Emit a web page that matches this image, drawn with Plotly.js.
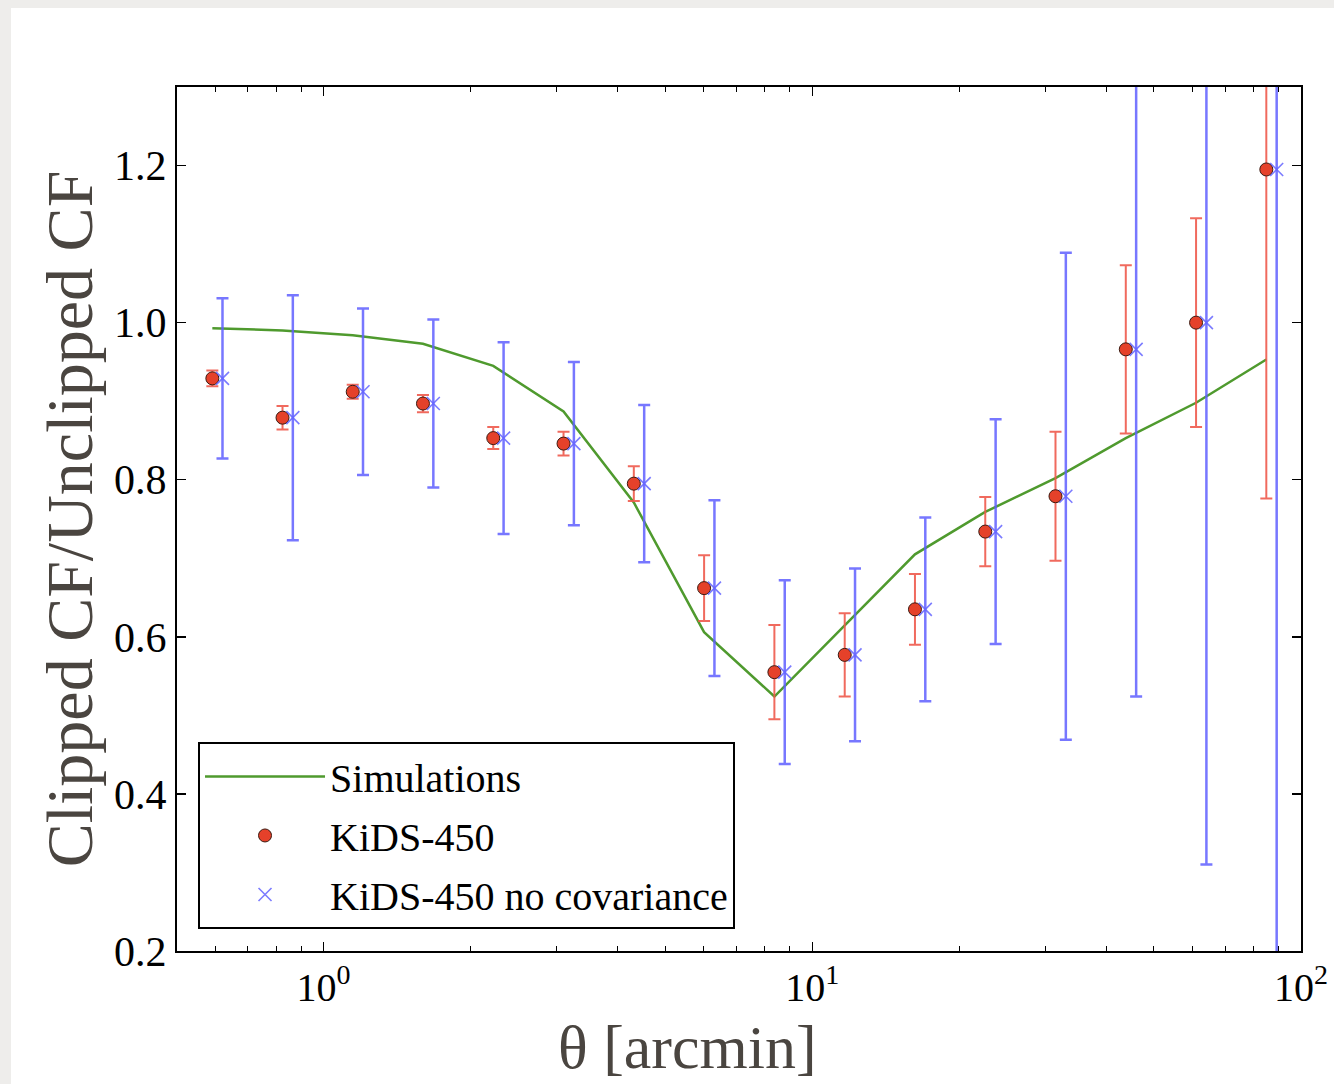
<!DOCTYPE html>
<html>
<head>
<meta charset="utf-8">
<script src="https://cdn.plot.ly/plotly-3.0.1.min.js"></script>
<style>
  html, body { margin: 0; padding: 0; background: #eeedeb; }
  #chart { position: absolute; left: 11px; top: 8px; width: 1323px; height: 1076px; background: #ffffff; }
</style>
</head>
<body>
<div id="chart"></div>
<script>
// angular bins [arcmin]
const theta = [0.592, 0.824, 1.147, 1.597, 2.224, 3.097, 4.313, 6.006, 8.364, 11.65, 16.22, 22.59, 31.45, 43.80, 60.99, 84.92];
// same bins shifted slightly for the "no covariance" points
const thetaNoCov = [0.621, 0.865, 1.204, 1.677, 2.335, 3.252, 4.529, 6.306, 8.782, 12.23, 17.03, 23.72, 33.02, 45.99, 64.04, 89.17];

const simulations = [0.993, 0.990, 0.984, 0.973, 0.945, 0.887, 0.771, 0.606, 0.524, 0.615, 0.705, 0.759, 0.802, 0.853, 0.898, 0.953];
const kids = [0.929, 0.879, 0.912, 0.897, 0.853, 0.846, 0.795, 0.662, 0.555, 0.577, 0.635, 0.734, 0.779, 0.966, 1.000, 1.195];
const kidsErr = [0.010, 0.015, 0.009, 0.011, 0.014, 0.015, 0.022, 0.042, 0.060, 0.053, 0.045, 0.044, 0.082, 0.107, 0.133, 0.419];
const kidsNoCov = [0.929, 0.879, 0.912, 0.897, 0.853, 0.846, 0.795, 0.662, 0.555, 0.577, 0.635, 0.734, 0.779, 0.966, 1.000, 1.195];
const kidsNoCovErr = [0.102, 0.156, 0.106, 0.107, 0.122, 0.104, 0.100, 0.112, 0.117, 0.110, 0.117, 0.143, 0.310, 0.442, 0.690, 1.000];

const xTickVals = [1, 10, 100];
const xTickText = ['10<sup>0</sup>', '10<sup>1</sup>', '10<sup>2</sup>'];
const xMinorVals = [0.6, 0.7, 0.8, 0.9, 2, 3, 4, 5, 6, 7, 8, 9, 20, 30, 40, 50, 60, 70, 80, 90];
const yTickVals = [0.2, 0.4, 0.6, 0.8, 1.0, 1.2];
const yTickText = ['0.2', '0.4', '0.6', '0.8', '1.0', '1.2'];
const xTitle = 'θ [arcmin]';
const yTitle = 'Clipped CF/Unclipped CF';

const FONT = '"Liberation Serif", "DejaVu Serif", serif';

const traces = [
  {
    x: theta, y: simulations, type: 'scatter', mode: 'lines',
    name: 'Simulations',
    line: { color: '#4f9a2e', width: 2.5 },
    legendgroup: 'a'
  },
  {
    x: theta, y: kids, type: 'scatter', mode: 'markers',
    name: 'KiDS-450',
    marker: { symbol: 'circle', size: 13, color: '#e5412a', line: { color: '#3b1b12', width: 1 } },
    error_y: { type: 'data', array: kidsErr, visible: true, color: 'rgba(238,90,76,0.9)', thickness: 2, width: 6 },
    legendgroup: 'b'
  },
  {
    x: thetaNoCov, y: kidsNoCov, type: 'scatter', mode: 'markers',
    name: 'KiDS-450 no covariance',
    marker: { symbol: 'x-thin', size: 13, color: 'rgba(100,100,255,0.85)', line: { color: 'rgba(100,100,255,0.85)', width: 1.6 } },
    error_y: { type: 'data', array: kidsNoCovErr, visible: true, color: 'rgba(95,95,255,0.85)', thickness: 2.5, width: 6 },
    legendgroup: 'c'
  }
];

const layout = {
  width: 1323, height: 1076,
  margin: { l: 166, r: 33, t: 79, b: 133, pad: 0 },
  paper_bgcolor: '#ffffff',
  plot_bgcolor: '#ffffff',
  font: { family: FONT, color: '#000000', size: 40 },
  showlegend: true,
  legend: {
    x: 0.0187, y: 0.0255, xanchor: 'left', yanchor: 'bottom',
    bgcolor: '#ffffff', bordercolor: '#000000', borderwidth: 2,
    font: { family: FONT, size: 40, color: '#000000' },
    traceorder: 'grouped', tracegroupgap: 4,
    itemwidth: 120
  },
  xaxis: {
    type: 'log', range: [-0.3, 2],
    tickmode: 'array', tickvals: xTickVals, ticktext: xTickText,
    ticks: 'inside', ticklen: 9, tickwidth: 1.5, tickcolor: '#000000',
    showline: true, linecolor: '#000000', linewidth: 2, mirror: 'ticks',
    showgrid: false, zeroline: false,
    tickfont: { family: FONT, size: 40, color: '#000000' },
    minor: { tickvals: xMinorVals, ticks: 'inside', ticklen: 5, tickwidth: 1, tickcolor: '#000000', showgrid: false }
  },
  yaxis: {
    range: [0.2, 1.3],
    tickmode: 'array', tickvals: yTickVals, ticktext: yTickText,
    ticks: 'inside', ticklen: 9, tickwidth: 1.5, tickcolor: '#000000',
    showline: true, linecolor: '#000000', linewidth: 2, mirror: 'ticks',
    showgrid: false, zeroline: false,
    tickfont: { family: FONT, size: 42, color: '#000000' },
    title: { text: yTitle, font: { family: FONT, size: 66, color: '#4a4540' }, standoff: 0 }
  },
  annotations: [
    {
      text: xTitle, xref: 'paper', yref: 'paper', x: 0.454, y: -0.152,
      xanchor: 'center', yanchor: 'bottom', showarrow: false, borderpad: 0,
      font: { family: FONT, size: 62, color: '#4a4540' }
    }
  ]
};

Plotly.newPlot('chart', traces, layout, { displayModeBar: false, staticPlot: true });
</script>
</body>
</html>
